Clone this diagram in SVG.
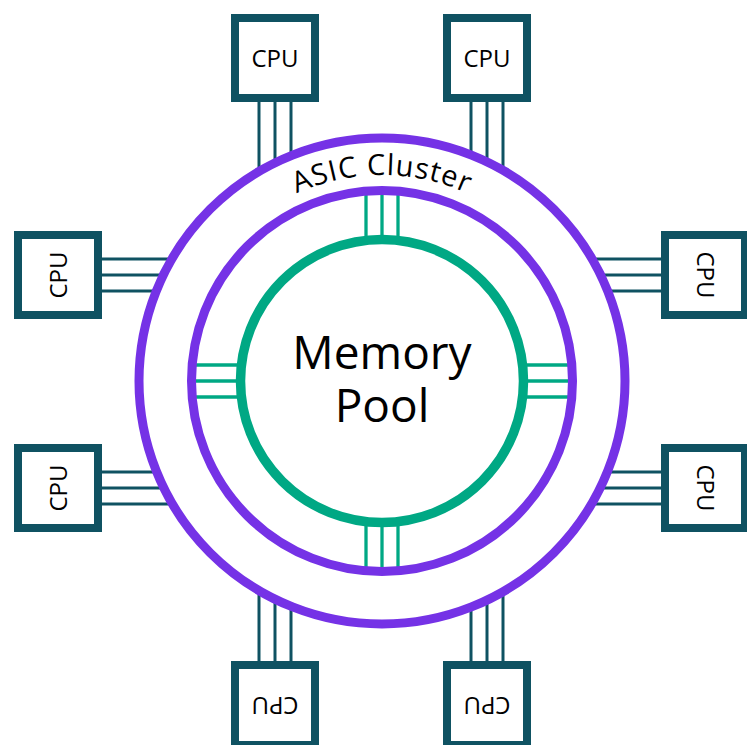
<svg xmlns="http://www.w3.org/2000/svg" width="747" height="745" viewBox="0 0 747 745">
<style>
.bus{stroke:#0F5262;stroke-width:3;fill:none}
.gbus{stroke:#00A884;stroke-width:3.3;fill:none}
.ring{fill:none;stroke:#7532E6;stroke-width:9}
.core{fill:none;stroke:#00A884;stroke-width:9.5}
.box{fill:#FFFFFF;stroke:#0F5262;stroke-width:8}
.lbl{font-family:"Open Sans","Noto Sans",sans-serif;font-size:24px;fill:#000;text-anchor:middle}
.big{font-family:"Open Sans","Noto Sans",sans-serif;font-size:46px;fill:#000;text-anchor:middle}
.arc{font-family:"Open Sans","Noto Sans",sans-serif;font-size:29px;fill:#000;text-anchor:middle;letter-spacing:1px}
</style>
<defs>
<path id="asicArc" d="M 176 381 A 206 206 0 0 1 588 381"/>
</defs>
<rect width="747" height="745" fill="#FFFFFF"/>
<g id="connectors">
<line class="bus" x1="259" y1="100" x2="259" y2="171.4"/>
<line class="bus" x1="275" y1="100" x2="275" y2="162.8"/>
<line class="bus" x1="291" y1="100" x2="291" y2="155.7"/>
<line class="bus" x1="471" y1="100" x2="471" y2="154.9"/>
<line class="bus" x1="487" y1="100" x2="487" y2="161.9"/>
<line class="bus" x1="503" y1="100" x2="503" y2="170.3"/>
<line class="bus" x1="259" y1="663" x2="259" y2="590.6"/>
<line class="bus" x1="275" y1="663" x2="275" y2="599.2"/>
<line class="bus" x1="291" y1="663" x2="291" y2="606.3"/>
<line class="bus" x1="471" y1="663" x2="471" y2="607.1"/>
<line class="bus" x1="487" y1="663" x2="487" y2="600.1"/>
<line class="bus" x1="503" y1="663" x2="503" y2="591.7"/>
<line class="bus" x1="100" y1="259" x2="171.8" y2="259"/>
<line class="bus" x1="100" y1="275" x2="163.3" y2="275"/>
<line class="bus" x1="100" y1="291" x2="156.3" y2="291"/>
<line class="bus" x1="100" y1="472" x2="156.7" y2="472"/>
<line class="bus" x1="100" y1="488" x2="163.8" y2="488"/>
<line class="bus" x1="100" y1="504" x2="172.4" y2="504"/>
<line class="bus" x1="663" y1="259" x2="592.2" y2="259"/>
<line class="bus" x1="663" y1="275" x2="600.7" y2="275"/>
<line class="bus" x1="663" y1="291" x2="607.7" y2="291"/>
<line class="bus" x1="663" y1="472" x2="607.3" y2="472"/>
<line class="bus" x1="663" y1="488" x2="600.2" y2="488"/>
<line class="bus" x1="663" y1="504" x2="591.6" y2="504"/>
<line class="gbus" x1="366" y1="190" x2="366" y2="241"/>
<line class="gbus" x1="382" y1="190" x2="382" y2="241"/>
<line class="gbus" x1="398" y1="190" x2="398" y2="241"/>
<line class="gbus" x1="366" y1="521" x2="366" y2="572"/>
<line class="gbus" x1="382" y1="521" x2="382" y2="572"/>
<line class="gbus" x1="398" y1="521" x2="398" y2="572"/>
<line class="gbus" x1="191" y1="365" x2="242" y2="365"/>
<line class="gbus" x1="191" y1="381" x2="242" y2="381"/>
<line class="gbus" x1="191" y1="397" x2="242" y2="397"/>
<line class="gbus" x1="522" y1="365" x2="573" y2="365"/>
<line class="gbus" x1="522" y1="381" x2="573" y2="381"/>
<line class="gbus" x1="522" y1="397" x2="573" y2="397"/>
</g>
<g id="asic-cluster">
<circle class="ring" cx="382" cy="381" r="243"/>
<circle class="ring" cx="382" cy="381" r="190.5"/>
<text class="arc"><textPath href="#asicArc" startOffset="50%">ASIC Cluster</textPath></text>
</g>
<g id="memory-pool">
<circle class="core" cx="382" cy="381" r="141.5"/>
<text class="big" x="382" y="369">Memory</text>
<text class="big" x="382" y="422">Pool</text>
</g>
<g id="cpu-top-left">
<rect class="box" x="235" y="18" width="80" height="80"/>
<text class="lbl" x="275" y="66.5">CPU</text>
</g>
<g id="cpu-top-right">
<rect class="box" x="447" y="18" width="80" height="80"/>
<text class="lbl" x="487" y="66.5">CPU</text>
</g>
<g id="cpu-bottom-left">
<rect class="box" x="235" y="665" width="80" height="80"/>
<text class="lbl" x="275" y="713.5" transform="rotate(180 275 705)">CPU</text>
</g>
<g id="cpu-bottom-right">
<rect class="box" x="447" y="665" width="80" height="80"/>
<text class="lbl" x="487" y="713.5" transform="rotate(180 487 705)">CPU</text>
</g>
<g id="cpu-left-top">
<rect class="box" x="18" y="235" width="80" height="80"/>
<text class="lbl" x="58" y="283.5" transform="rotate(-90 58 275)">CPU</text>
</g>
<g id="cpu-left-bottom">
<rect class="box" x="18" y="448" width="80" height="80"/>
<text class="lbl" x="58" y="496.5" transform="rotate(-90 58 488)">CPU</text>
</g>
<g id="cpu-right-top">
<rect class="box" x="665" y="235" width="80" height="80"/>
<text class="lbl" x="705" y="283.5" transform="rotate(90 705 275)">CPU</text>
</g>
<g id="cpu-right-bottom">
<rect class="box" x="665" y="448" width="80" height="80"/>
<text class="lbl" x="705" y="496.5" transform="rotate(90 705 488)">CPU</text>
</g>
</svg>
